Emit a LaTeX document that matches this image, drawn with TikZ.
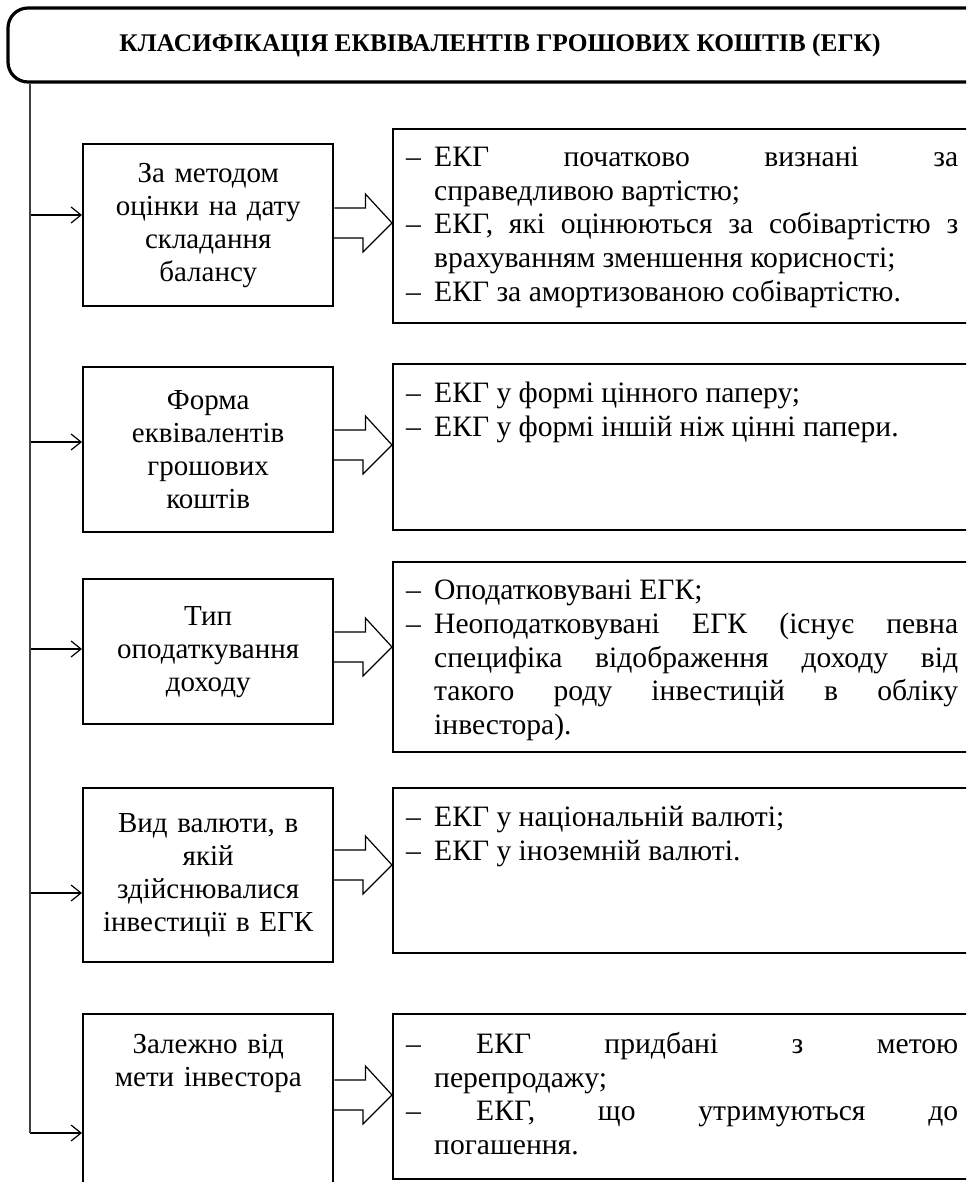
\documentclass[tikz,border=0pt]{standalone}
\usepackage{fontspec}
\setmainfont{Liberation Serif}
\usetikzlibrary{arrows.meta,calc,positioning}
\tikzset{catbox/.style={draw,line width=1.2pt,anchor=north west,minimum width=125pt,inner xsep=4pt,
    text width=117pt,align=center,font=\fontsize{14.5}{16.5}\selectfont},
  descbox/.style={draw,line width=1.2pt,anchor=north west,inner xsep=6.5pt,inner ysep=9pt,
    font=\fontsize{14.8}{16.8}\selectfont},
  hollow/.style={line width=0.6pt,line join=miter},
  arr/.style={-{Straight Barb[length=5pt,width=8pt]},line width=0.6pt}}
\newcommand{\ditem}{\par\noindent\hangindent=14pt\hangafter=1\makebox[14pt][l]{–}}
\newcommand{\desc}[2]{\parbox[t][\dimexpr#1pt-18pt\relax][t]{276pt}{#2}}

\begin{document}
\begin{tikzpicture}[x=0.5pt,y=-0.5pt]
\useasboundingbox (0,0) rectangle (966,1182);
\clip (0,0) rectangle (966,1182);
\node[draw,line width=1.6pt,rounded corners=10pt,minimum width=492pt,minimum height=37pt,
  font=\fontsize{12.7}{14}\selectfont\bfseries] (title) at (500,45) {КЛАСИФІКАЦІЯ ЕКВІВАЛЕНТІВ ГРОШОВИХ КОШТІВ (ЕГК)};
% ознаки класифікації
\node[catbox,minimum height=81pt] (c1) at (82,143) {За методом\\оцінки на дату\\складання\\балансу};
\node[catbox,minimum height=82.5pt] (c2) at (82,366) {Форма\\еквівалентів\\грошових\\коштів};
\node[catbox,minimum height=72.5pt] (c3) at (82,578) {Тип\\оподаткування\\доходу};
\node[catbox,minimum height=87pt] (c4) at (82,787) {Вид валюти, в\\якій\\здійснювалися\\інвестиції в ЕГК};
\node[catbox,minimum height=120pt] (c5) at (82,1013) {\parbox[t][104pt][t]{117pt}{\centering\vspace*{2pt}Залежно від\\мети інвестора}};
% види ЕГК
\node[descbox] (d1) at (392,128) {\desc{97}{\ditem ЕКГ початково визнані за\linebreak справедливою вартістю;\ditem ЕКГ, які оцінюються за собівартістю з\linebreak врахуванням зменшення корисності;\ditem ЕКГ за амортизованою собівартістю.}};
\node[descbox] (d2) at (392,363) {\desc{83}{\ditem ЕКГ у формі цінного паперу;\ditem ЕКГ у формі іншій ніж цінні папери.}};
\node[descbox] (d3) at (392,561) {\desc{95}{\ditem Оподатковувані ЕГК;\ditem Неоподатковувані ЕГК (існує певна\linebreak специфіка відображення доходу від\linebreak такого роду інвестицій в обліку\linebreak інвестора).}};
\node[descbox] (d4) at (392,787) {\desc{82.5}{\ditem ЕКГ у національній валюті;\ditem ЕКГ у іноземній валюті.}};
\node[descbox] (d5) at (392,1013) {\desc{82.5}{\ditem\hspace*{21pt}ЕКГ придбані з метою\linebreak перепродажу;\ditem\hspace*{21pt}ЕКГ, що утримуються до\linebreak погашення.}};
\coordinate (tr) at (30,0);
\foreach \i/\a/\b in {1/72/95,2/76/82,3/71/86,4/106/78,5/120/82}{
  \path ($(c\i.north west)+(0,\a)$) coordinate (e\i) ($(d\i.north west)+(0,\b)$) coordinate (t\i);
  \draw[arr] (e\i -| tr) -- (e\i);
  \draw[hollow] (c\i.east |- t\i) ++(0,-15) -- ++(31,0) -- ++(0,-14) -- (t\i) -- ++(-29,29) -- ++(0,-14) -- ++(-31,0);
}
\draw[line width=0.9pt,black!75] (title.south -| tr) -- (e5 -| tr);
\end{tikzpicture}
\end{document}
